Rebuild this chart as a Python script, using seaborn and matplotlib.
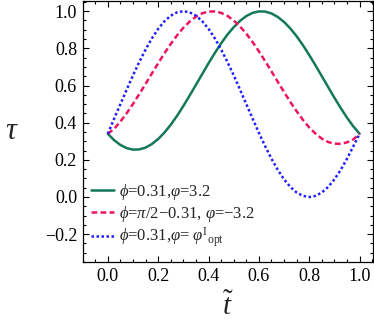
import numpy as np
import pandas as pd
import matplotlib
matplotlib.use("Agg")
import matplotlib.pyplot as plt
from matplotlib.ticker import MultipleLocator
import seaborn as sns

# ---- data ----
t_vals = [round(0.025 * i, 3) for i in range(41)]

tau_green = [0.340, 0.306, 0.280, 0.263, 0.255, 0.256, 0.266, 0.285, 0.312, 0.347,
             0.389, 0.437, 0.490, 0.546, 0.604, 0.662, 0.720, 0.775, 0.827, 0.874,
             0.914, 0.948, 0.974, 0.991, 0.999, 0.998, 0.988, 0.969, 0.942, 0.907,
             0.865, 0.817, 0.764, 0.708, 0.650, 0.592, 0.534, 0.479, 0.427, 0.380,
             0.340]

tau_red = [0.340, 0.367, 0.406, 0.451, 0.501, 0.554, 0.609, 0.665, 0.720, 0.774,
           0.824, 0.870, 0.911, 0.944, 0.971, 0.989, 0.998, 0.999, 0.991, 0.975,
           0.950, 0.918, 0.879, 0.834, 0.784, 0.731, 0.676, 0.620, 0.565, 0.511,
           0.461, 0.415, 0.374, 0.341, 0.314, 0.296, 0.287, 0.286, 0.294, 0.310,
           0.340]

tau_blue = [0.340, 0.422, 0.500, 0.578, 0.655, 0.727, 0.794, 0.854, 0.905, 0.946,
            0.976, 0.994, 1.000, 0.994, 0.976, 0.946, 0.905, 0.854, 0.794, 0.727,
            0.655, 0.578, 0.500, 0.422, 0.345, 0.273, 0.206, 0.146, 0.095, 0.054,
            0.024, 0.006, 0.000, 0.006, 0.024, 0.054, 0.095, 0.146, 0.206, 0.273,
            0.340]

series_labels = [
    r"$\phi$=0.31,$\varphi$=3.2",
    r"$\phi$=$\pi$/2−0.31, $\varphi$=−3.2",
    r"$\phi$=0.31,$\varphi$= $\varphi^{\mathrm{I}}{}_{\mathrm{opt}}$",
]
x_ticks = [0.0, 0.2, 0.4, 0.6, 0.8, 1.0]
y_ticks = [-0.2, 0.0, 0.2, 0.4, 0.6, 0.8, 1.0]

# ---- style ----
sns.set_theme(style="white")
plt.rcParams["font.family"] = ["Liberation Serif", "DejaVu Serif"]
plt.rcParams["mathtext.fontset"] = "custom"
plt.rcParams["mathtext.rm"] = "Liberation Serif"
plt.rcParams["mathtext.it"] = "Liberation Serif:italic"
plt.rcParams["mathtext.bf"] = "Liberation Serif:bold"

colors = ["#14785a", "#ee1463", "#1f1fff"]

df = pd.DataFrame({
    "t": t_vals * 3,
    "tau": tau_green + tau_red + tau_blue,
    "series": [series_labels[0]] * 41 + [series_labels[1]] * 41 + [series_labels[2]] * 41,
})

fig = plt.figure(figsize=(3.74, 3.30), dpi=100)
ax = fig.add_axes([0.221, 0.206, 0.7755, 0.791])

sns.lineplot(
    data=df, x="t", y="tau", hue="series", style="series",
    hue_order=series_labels, style_order=series_labels,
    palette=dict(zip(series_labels, colors)),
    dashes={series_labels[0]: "", series_labels[1]: (2.3, 1.3), series_labels[2]: (1.0, 1.0)},
    linewidth=1.8, ax=ax, sort=False, estimator=None,
)

ax.set_xlim(-0.1, 1.052)
ax.set_ylim(-0.35, 1.055)
ax.set_xticks(x_ticks)
ax.set_yticks(y_ticks)
ax.set_xticklabels([f"{v:.1f}" for v in x_ticks])
ax.set_yticklabels([f"{v:.1f}".replace("-", "−") for v in y_ticks])
ax.xaxis.set_minor_locator(MultipleLocator(0.05))
ax.yaxis.set_minor_locator(MultipleLocator(0.05))
ax.tick_params(which="both", direction="in", top=True, right=True, bottom=True, left=True,
               colors="black", labelsize=13, width=0.8)
ax.tick_params(which="major", length=4, pad=4)
ax.tick_params(which="minor", length=2)
for sp in ax.spines.values():
    sp.set_color("black")
    sp.set_linewidth(0.9)

ax.set_xlabel(r"$\tilde{t}$", fontsize=21)
ax.set_ylabel(r"$\tau$", fontsize=22, rotation=0, va="center", ha="center")
ax.xaxis.set_label_coords(0.5, -0.118)
ax.yaxis.set_label_coords(-0.243, 0.5)

handles, labels = ax.get_legend_handles_labels()
ax.legend(handles, labels, loc="center left", bbox_to_anchor=(0.029, 0.178),
          frameon=False, fontsize=12, handlelength=1.4, handletextpad=0.3,
          labelspacing=0.12, borderaxespad=0.0, borderpad=0.0)

fig.savefig("out.png", dpi=100)
